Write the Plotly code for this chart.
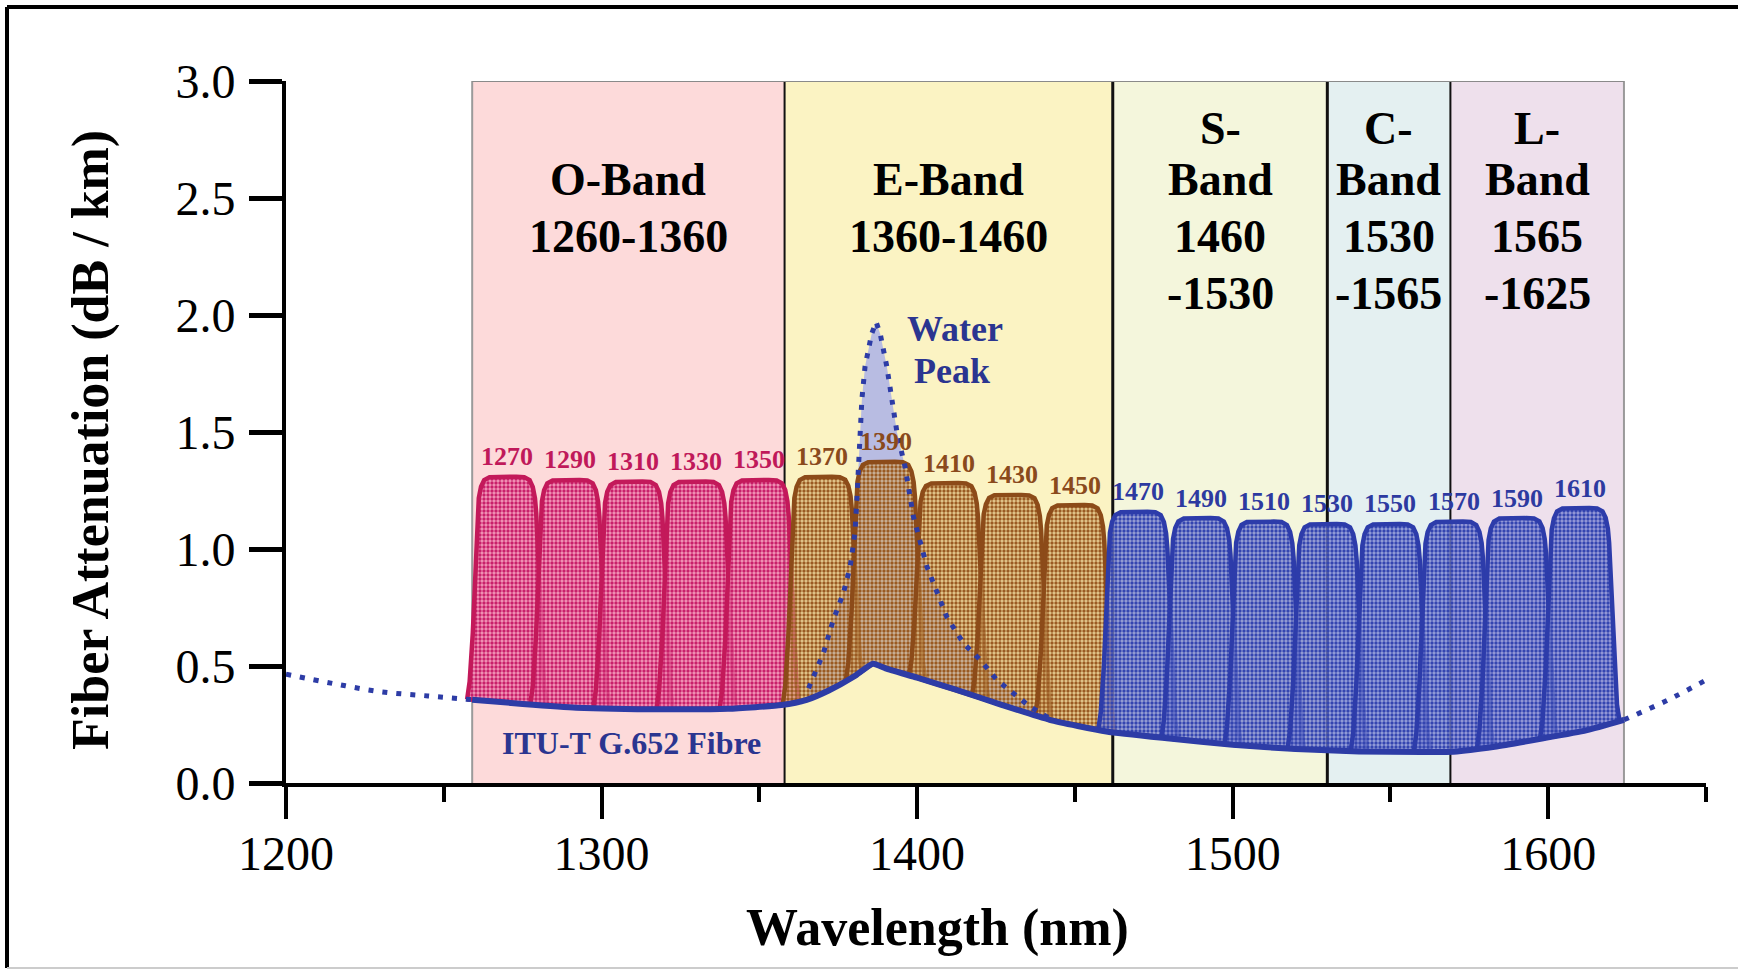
import numpy as np
import plotly.graph_objects as go

# ---------------- data ----------------
# ITU-T G.652 fibre attenuation (nm, dB/km)
att_x = [1200, 1215, 1230, 1245, 1259, 1275, 1292, 1320, 1340, 1357, 1365, 1372, 1380,
         1386, 1390, 1400, 1412, 1427, 1442, 1460, 1480, 1500, 1520, 1540, 1560, 1570,
         1583, 1598, 1612, 1624, 1638, 1650]
att_y = [0.465, 0.425, 0.39, 0.372, 0.356, 0.338, 0.322, 0.315, 0.317, 0.333, 0.355, 0.395, 0.455,
         0.51, 0.49, 0.45, 0.40, 0.333, 0.27, 0.22, 0.19, 0.163, 0.145, 0.135, 0.133, 0.134,
         0.155, 0.19, 0.225, 0.27, 0.355, 0.44]
solid_from, solid_to = 1259, 1624

# water peak upper outline
wp_x = [1365.6, 1367.7, 1370.3, 1373.5, 1376.6, 1378.8, 1380.3, 1380.9, 1381.4, 1382.0, 1382.5,
        1383.5, 1385.6, 1387.0, 1388.3, 1390.4, 1392.0, 1393.6, 1396.2, 1398.8, 1403.1, 1406.2,
        1409.4, 1414.7, 1420.0, 1425.3, 1431.6, 1435.8, 1441.5]
wp_y = [0.405, 0.47, 0.555, 0.70, 0.81, 0.925, 1.07, 1.21, 1.35, 1.50, 1.64,
        1.78, 1.92, 1.97, 1.92, 1.78, 1.64, 1.50, 1.35, 1.14, 0.925, 0.825,
        0.71, 0.597, 0.526, 0.44, 0.369, 0.326, 0.28]

# CWDM channels
ch_centers = [1270, 1290, 1310, 1330, 1350, 1370, 1390, 1410, 1430, 1450,
              1470, 1490, 1510, 1530, 1550, 1570, 1590, 1610]
ch_peaks = [1.309, 1.295, 1.288, 1.288, 1.295, 1.309, 1.373, 1.282, 1.231, 1.188,
            1.159, 1.132, 1.117, 1.107, 1.107, 1.117, 1.132, 1.175]
ch_group = [0] * 5 + [1] * 5 + [2] * 8
# passband profile (offset nm, fraction of height above the fibre curve)
prof_off = [-12.6, -11.8, -10.8, -10.0, -9.6, -9.3, -8.9, -8.2, -7.2, -5.5, -3,
            3, 5.5, 7.2, 8.2, 8.9, 9.3, 9.6, 10.0, 10.8, 11.8, 12.6]
prof_frac = [0, 0.08, 0.3, 0.6, 0.75, 0.84, 0.905, 0.955, 0.985, 0.998, 1,
             1, 0.998, 0.985, 0.955, 0.905, 0.84, 0.75, 0.6, 0.3, 0.08, 0]

# bands
band_edges = [1259, 1358, 1462, 1530, 1569, 1624]
band_labels = [["O-Band", "1260-1360"], ["E-Band", "1360-1460"],
               ["S-", "Band", "1460", "-1530"], ["C-", "Band", "1530", "-1565"],
               ["L-", "Band", "1565", "-1625"]]

x_ticks = [1200, 1300, 1400, 1500, 1600]
x_minor = [1250, 1350, 1450, 1550, 1650]
y_ticks = [0.0, 0.5, 1.0, 1.5, 2.0, 2.5, 3.0]

# ---------------- styles ----------------
FONT = "Liberation Serif"
BLUE = "#2D3CA6"
band_colors = ["#FDDADA", "#FBF3C3", "#F4F6DC", "#E4F0F1", "#EEE0EC"]
group_line = ["#C3195A", "#8C4B19", "#2D3CAA"]
group_fg = ["#C8206A", "#9A5A22", "#3445B0"]
group_bg = ["rgba(238,130,175,0.75)", "rgba(215,175,110,0.6)", "rgba(125,135,210,0.75)"]
group_text = ["#C0195A", "#8A4A1C", "#2D3AA0"]
row_y = [2.798, 2.577, 2.335, 2.093]

att_x_a = np.array(att_x, float)
att_y_a = np.array(att_y, float)

fig = go.Figure()

# band backgrounds
for i, col in enumerate(band_colors):
    fig.add_shape(type="rect", xref="x", yref="y", x0=band_edges[i], x1=band_edges[i + 1],
                  y0=0, y1=3, fillcolor=col, line=dict(width=0), layer="below")
edge_style = [("#9A9A9A", 2), ("#111111", 2), ("#111111", 3), ("#111111", 3), ("#111111", 2), ("#9A9A9A", 2)]
for e, (c, w) in zip(band_edges, edge_style):
    fig.add_shape(type="line", xref="x", yref="y", x0=e, x1=e, y0=0, y1=3,
                  line=dict(color=c, width=w), layer="below")
fig.add_shape(type="line", xref="x", yref="y", x0=band_edges[0], x1=band_edges[-1], y0=3, y1=3,
              line=dict(color="#8A8A8A", width=2), layer="below")

# water peak fill
wpx = np.array(wp_x)
wpy = np.array(wp_y)
poly_x = np.concatenate([wpx, wpx[::-1]])
poly_y = np.concatenate([wpy, np.interp(wpx[::-1], att_x_a, att_y_a)])
fig.add_trace(go.Scatter(x=poly_x, y=poly_y, mode="lines", fill="toself",
                         fillcolor="#B8BCE2", line=dict(width=0), hoverinfo="skip", showlegend=False))

# channel filters
off = np.array(prof_off)
frac = np.array(prof_frac)
for c, pk, g in zip(ch_centers, ch_peaks, ch_group):
    xs = c + off
    base = np.interp(xs, att_x_a, att_y_a)
    ys = base + frac * (pk - base)
    inner = att_x_a[(att_x_a > xs[0]) & (att_x_a < xs[-1])]
    bx = np.concatenate([[xs[-1]], inner[::-1], [xs[0]]])
    by = np.interp(bx, att_x_a, att_y_a)
    px = np.concatenate([xs, bx])
    py = np.concatenate([ys, by])
    fig.add_trace(go.Scatter(
        x=px, y=py, mode="lines", fill="toself",
        fillcolor=group_bg[g],
        fillpattern=dict(shape=".", fgcolor=group_fg[g], bgcolor=group_bg[g],
                         size=4, solidity=0.55, fillmode="replace"),
        line=dict(color=group_line[g], width=4.5),
        hoverinfo="skip", showlegend=False))

# water peak dotted outline
fig.add_trace(go.Scatter(x=wp_x, y=wp_y, mode="lines",
                         line=dict(color=BLUE, width=5, dash="5px,8px"),
                         hoverinfo="skip", showlegend=False))

# fibre attenuation curve: solid in band range, dotted outside
left = att_x_a <= solid_from
right = att_x_a >= solid_to
mid = (att_x_a >= solid_from) & (att_x_a <= solid_to)
for m in (left, right):
    fig.add_trace(go.Scatter(x=att_x_a[m], y=att_y_a[m], mode="lines",
                             line=dict(color=BLUE, width=5, dash="5px,9px", shape="spline"),
                             hoverinfo="skip", showlegend=False))
fig.add_trace(go.Scatter(x=att_x_a[mid], y=att_y_a[mid], mode="lines",
                         line=dict(color=BLUE, width=6, shape="spline", smoothing=0.5),
                         hoverinfo="skip", showlegend=False))

annotations = []
# channel labels
for c, pk, g in zip(ch_centers, ch_peaks, ch_group):
    annotations.append(dict(x=c, y=pk, xref="x", yref="y", text=f"<b>{c}</b>", showarrow=False,
                            yshift=20, yanchor="middle", xanchor="center",
                            font=dict(family=FONT, size=26, color=group_text[g])))
# band labels
for i, lines in enumerate(band_labels):
    xc = (band_edges[i] + band_edges[i + 1]) / 2
    start = 1 if len(lines) == 2 else 0
    for j, t in enumerate(lines):
        annotations.append(dict(x=xc, y=row_y[start + j], xref="x", yref="y", text=f"<b>{t}</b>",
                                showarrow=False, yanchor="middle", xanchor="center",
                                font=dict(family=FONT, size=46, color="black")))
# water peak and fibre labels
annotations.append(dict(x=1412, y=1.942, xref="x", yref="y", text="<b>Water</b>", showarrow=False,
                        xanchor="center", yanchor="middle",
                        font=dict(family=FONT, size=36, color="#2B3590")))
annotations.append(dict(x=1411, y=1.762, xref="x", yref="y", text="<b>Peak</b>", showarrow=False,
                        xanchor="center", yanchor="middle",
                        font=dict(family=FONT, size=36, color="#2B3590")))
annotations.append(dict(x=1309.4, y=0.17, xref="x", yref="y", text="<b>ITU-T G.652 Fibre</b>",
                        showarrow=False, xanchor="center", yanchor="middle",
                        font=dict(family=FONT, size=32, color="#2B3590")))

# axis titles (pixel positions converted to paper coordinates)
L, R, T, B = 286, 1706, 81, 783
def px_to_paper(px, py):
    return (px - L) / (R - L), (B - py) / (B - T)

xt = px_to_paper(937.5, 928)
yt = px_to_paper(91, 440)
annotations.append(dict(x=xt[0], y=xt[1], xref="paper", yref="paper", text="<b>Wavelength (nm)</b>",
                        showarrow=False, xanchor="center", yanchor="middle",
                        font=dict(family=FONT, size=52, color="black")))
annotations.append(dict(x=yt[0], y=yt[1], xref="paper", yref="paper",
                        text="<b>Fiber Attenuation (dB / km)</b>", textangle=-90,
                        showarrow=False, xanchor="center", yanchor="middle",
                        font=dict(family=FONT, size=52, color="black")))

# outer frame
f0 = px_to_paper(7, 7)
f1 = px_to_paper(1745, 968)
fig.add_shape(type="line", xref="paper", yref="paper", x0=f0[0], x1=f1[0], y0=f0[1], y1=f0[1],
              line=dict(color="black", width=4))
fig.add_shape(type="line", xref="paper", yref="paper", x0=f0[0], x1=f0[0], y0=f0[1], y1=f1[1],
              line=dict(color="black", width=4))
fig.add_shape(type="line", xref="paper", yref="paper", x0=f0[0], x1=f1[0], y0=f1[1], y1=f1[1],
              line=dict(color="#CCCCCC", width=2))

fig.update_layout(
    width=1738, height=971,
    margin=dict(l=L, r=1738 - R, t=T, b=971 - B, pad=0),
    paper_bgcolor="white", plot_bgcolor="white",
    showlegend=False,
    annotations=annotations,
    font=dict(family=FONT, color="black"),
)
fig.update_xaxes(range=[1200, 1650], showgrid=False, zeroline=False,
                 showline=True, linecolor="black", linewidth=4,
                 tickmode="array", tickvals=x_ticks, ticktext=[str(v) for v in x_ticks],
                 ticks="outside", ticklen=32, tickwidth=4, tickcolor="black",
                 ticklabelstandoff=-7,
                 minor=dict(tickmode="array", tickvals=x_minor,
                            ticks="outside", ticklen=15, tickwidth=4, tickcolor="black"),
                 tickfont=dict(family=FONT, size=48, color="black"))
fig.update_yaxes(range=[0, 3], showgrid=False, zeroline=False,
                 showline=True, linecolor="black", linewidth=4,
                 tickmode="array", tickvals=y_ticks, ticktext=[f"{v:.1f}" for v in y_ticks],
                 ticks="outside", ticklen=33, tickwidth=5, tickcolor="black",
                 ticklabelstandoff=4,
                 tickfont=dict(family=FONT, size=48, color="black"))

fig.write_html("out.html", config={"displayModeBar": False},
               post_script="document.body.style.margin='0px';")
